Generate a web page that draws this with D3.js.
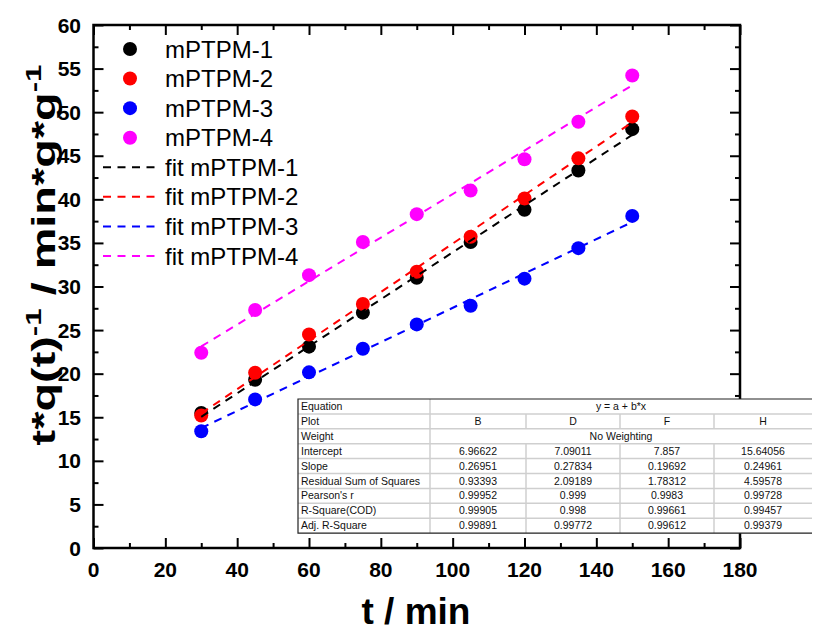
<!DOCTYPE html>
<html>
<head>
<meta charset="utf-8">
<script src="https://cdn.jsdelivr.net/npm/d3@7"></script>
<style>
  body { margin: 0; background: #fff; }
  svg { display: block; font-family: Arial, "Liberation Sans", sans-serif; }
</style>
</head>
<body>
<svg id="chart" width="813" height="633"></svg>
<script>
// sampling times (min)
var times = [30, 45, 60, 75, 90, 105, 120, 135, 150];

// t/q(t) values
var mPTPM1 = [15.5, 19.3, 23.1, 27.0, 31.0, 35.1, 38.8, 43.3, 48.05];
var mPTPM2 = [15.2, 20.1, 24.5, 28.0, 31.7, 35.7, 40.1, 44.7, 49.5];
var mPTPM3 = [13.4, 17.05, 20.15, 22.85, 25.65, 27.8, 30.9, 34.4, 38.1];
var mPTPM4 = [22.4, 27.3, 31.3, 35.1, 38.3, 41.0, 44.6, 48.9, 54.2];

var seriesNames = ['mPTPM-1', 'mPTPM-2', 'mPTPM-3', 'mPTPM-4'];
var seriesColors = ['#000000', '#ff0000', '#0000ff', '#ff00ff'];

// linear fit parameters (y = a + b*x), from the table
var fitIntercepts = [6.96622, 7.09011, 7.857, 15.64056];
var fitSlopes = [0.26951, 0.27834, 0.19692, 0.24961];

var xTicks = [0, 20, 40, 60, 80, 100, 120, 140, 160, 180];
var yTicks = [0, 5, 10, 15, 20, 25, 30, 35, 40, 45, 50, 55, 60];

// table contents
var tableHeader = ['Equation', 'y = a + b*x'];
var tablePlots = ['Plot', 'B', 'D', 'F', 'H'];
var tableWeight = ['Weight', 'No Weighting'];
var tableRows = [
  ['Intercept', '6.96622', '7.09011', '7.857', '15.64056'],
  ['Slope', '0.26951', '0.27834', '0.19692', '0.24961'],
  ['Residual Sum of Squares', '0.93393', '2.09189', '1.78312', '4.59578'],
  ["Pearson's r", '0.99952', '0.999', '0.9983', '0.99728'],
  ['R-Square(COD)', '0.99905', '0.998', '0.99661', '0.99457'],
  ['Adj. R-Square', '0.99891', '0.99772', '0.99612', '0.99379']
];

var svg = d3.select('#chart');

var plot = { left: 93.5, right: 740, top: 25, bottom: 548 };

var x = d3.scaleLinear().domain([0, 180]).range([plot.left, plot.right]);
var y = d3.scaleLinear().domain([0, 60]).range([plot.bottom, plot.top]);

// ticks (all pointing inward)
function tickAxis(gen, tx, ty, values, size) {
  var g = svg.append('g')
    .attr('transform', 'translate(' + tx + ',' + ty + ')')
    .call(gen.tickValues(values).tickSize(-size).tickFormat(''));
  g.select('.domain').remove();
  g.selectAll('line').attr('stroke', '#000').attr('stroke-width', 2);
  return g;
}

var xMinor = d3.range(10, 180, 20);
var yMinor = d3.range(2.5, 60, 5);

tickAxis(d3.axisBottom(x), 0, plot.bottom, xTicks, 10);
tickAxis(d3.axisBottom(x), 0, plot.bottom, xMinor, 5);
tickAxis(d3.axisTop(x), 0, plot.top, xTicks, 10);
tickAxis(d3.axisTop(x), 0, plot.top, xMinor, 5);
tickAxis(d3.axisLeft(y), plot.left, 0, yTicks, 10);
tickAxis(d3.axisLeft(y), plot.left, 0, yMinor, 5);
tickAxis(d3.axisRight(y), plot.right, 0, yTicks, 10);
tickAxis(d3.axisRight(y), plot.right, 0, yMinor, 5);

// frame
svg.append('rect')
  .attr('x', plot.left)
  .attr('y', plot.top)
  .attr('width', plot.right - plot.left)
  .attr('height', plot.bottom - plot.top)
  .attr('fill', 'none')
  .attr('stroke', '#000')
  .attr('stroke-width', 2.5);

// tick labels
svg.append('g').selectAll('text')
  .data(xTicks)
  .enter()
  .append('text')
  .attr('x', function(d) { return x(d); })
  .attr('y', 577)
  .attr('text-anchor', 'middle')
  .attr('font-size', '21px')
  .attr('font-weight', 'bold')
  .text(function(d) { return d; });

svg.append('g').selectAll('text')
  .data(yTicks)
  .enter()
  .append('text')
  .attr('x', 81)
  .attr('y', function(d) { return y(d) + 7.5; })
  .attr('text-anchor', 'end')
  .attr('font-size', '21px')
  .attr('font-weight', 'bold')
  .text(function(d) { return d; });

// axis titles
svg.append('text')
  .attr('x', 416)
  .attr('y', 624)
  .attr('text-anchor', 'middle')
  .attr('font-size', '37px')
  .attr('font-weight', 'bold')
  .text('t / min');

// y title is stretched along its length like in the original
var yTitle = svg.append('text')
  .attr('transform', 'translate(55,255) rotate(-90) scale(1.42,1)')
  .attr('text-anchor', 'middle')
  .attr('font-size', '33px')
  .attr('font-weight', 'bold');
yTitle.append('tspan').text('t*q(t)');
yTitle.append('tspan').attr('dy', -14).attr('font-size', '22px').text('-1');
yTitle.append('tspan').attr('dy', 14).text(' / min*g*g');
yTitle.append('tspan').attr('dy', -14).attr('font-size', '22px').text('-1');

// scatter points
var allSeries = [mPTPM1, mPTPM2, mPTPM3, mPTPM4];

allSeries.forEach(function(vals, i) {
  svg.append('g').selectAll('circle')
    .data(vals)
    .enter()
    .append('circle')
    .attr('cx', function(d, j) { return x(times[j]); })
    .attr('cy', function(d) { return y(d); })
    .attr('r', 7)
    .attr('fill', seriesColors[i]);
});

// fit lines
var line = d3.line()
  .x(function(d) { return x(d[0]); })
  .y(function(d) { return y(d[1]); });

fitIntercepts.forEach(function(a, i) {
  var b = fitSlopes[i];
  var ends = [times[0], times[times.length - 1]].map(function(t) {
    return [t, a + b * t];
  });
  svg.append('path')
    .attr('d', line(ends))
    .attr('fill', 'none')
    .attr('stroke', seriesColors[i])
    .attr('stroke-width', 2)
    .attr('stroke-dasharray', '8,6.5');
});

// legend
var legendY = d3.scaleLinear().domain([0, 7]).range([49, 256]);

seriesNames.forEach(function(name, i) {
  svg.append('circle')
    .attr('cx', 130)
    .attr('cy', legendY(i))
    .attr('r', 7)
    .attr('fill', seriesColors[i]);
  svg.append('text')
    .attr('x', 165)
    .attr('y', legendY(i) + 8.5)
    .attr('font-size', '24px')
    .text(name);
});

seriesNames.forEach(function(name, i) {
  var ly = legendY(i + 4);
  svg.append('line')
    .attr('x1', 103).attr('x2', 160)
    .attr('y1', ly).attr('y2', ly)
    .attr('stroke', seriesColors[i])
    .attr('stroke-width', 2)
    .attr('stroke-dasharray', '8,6.5');
  svg.append('text')
    .attr('x', 165)
    .attr('y', ly + 8.5)
    .attr('font-size', '24px')
    .text('fit ' + name);
});

// results table
var table = { left: 298, top: 399, rowH: 14.9, cols: [298, 430, 526, 620, 714, 812] };
var nRows = 3 + tableRows.length;
var tg = svg.append('g').attr('font-size', '10.5px').attr('fill', '#111');

tg.append('rect')
  .attr('x', table.left)
  .attr('y', table.top)
  .attr('width', table.cols[5] - table.left)
  .attr('height', nRows * table.rowH)
  .attr('fill', '#fff');

// horizontal separators
for (var r = 1; r < nRows; r++) {
  tg.append('line')
    .attr('x1', table.left).attr('x2', table.cols[5])
    .attr('y1', table.top + r * table.rowH).attr('y2', table.top + r * table.rowH)
    .attr('stroke', '#cfcfcf').attr('stroke-width', 1.5);
}
// vertical separators
tg.append('line')
  .attr('x1', table.cols[1]).attr('x2', table.cols[1])
  .attr('y1', table.top).attr('y2', table.top + nRows * table.rowH)
  .attr('stroke', '#cfcfcf').attr('stroke-width', 1.5);
[2, 3, 4].forEach(function(c) {
  [1, 3, 4, 5, 6, 7, 8].forEach(function(r) {
    tg.append('line')
      .attr('x1', table.cols[c]).attr('x2', table.cols[c])
      .attr('y1', table.top + r * table.rowH)
      .attr('y2', table.top + (r + 1) * table.rowH)
      .attr('stroke', '#cfcfcf').attr('stroke-width', 1.5);
  });
});

// border
tg.append('path')
  .attr('d', 'M' + table.cols[5] + ',' + table.top + 'H' + table.left +
    'V' + (table.top + nRows * table.rowH) + 'H' + table.cols[5])
  .attr('fill', 'none')
  .attr('stroke', '#222')
  .attr('stroke-width', 1.2);

function rowText(r, cells, merged) {
  var ty = table.top + r * table.rowH + 11;
  tg.append('text')
    .attr('x', table.left + 3)
    .attr('y', ty)
    .text(cells[0]);
  if (merged) {
    tg.append('text')
      .attr('x', (table.cols[1] + table.cols[5]) / 2)
      .attr('y', ty)
      .attr('text-anchor', 'middle')
      .text(cells[1]);
  } else {
    cells.slice(1).forEach(function(c, k) {
      tg.append('text')
        .attr('x', (table.cols[k + 1] + table.cols[k + 2]) / 2)
        .attr('y', ty)
        .attr('text-anchor', 'middle')
        .text(c);
    });
  }
}

rowText(0, tableHeader, true);
rowText(1, tablePlots, false);
rowText(2, tableWeight, true);
tableRows.forEach(function(row, i) {
  rowText(3 + i, row, false);
});
</script>
</body>
</html>
